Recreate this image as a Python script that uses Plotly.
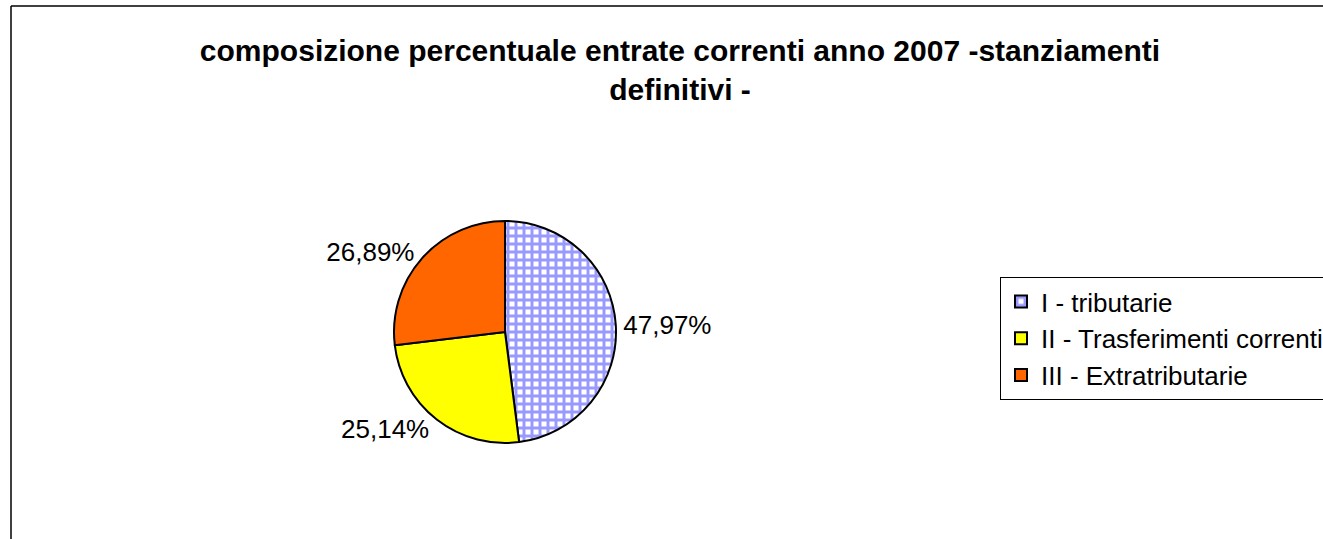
import plotly.graph_objects as go

# quote percentuali entrate correnti 2007
categorie = ["I - tributarie", "II - Trasferimenti correnti", "III - Extratributarie"]
percentuali = [47.97, 25.14, 26.89]
colori = ["#9999FF", "#FFFF00", "#FF6600"]

W, H = 1323, 539
FONT = "Arial, Liberation Sans, sans-serif"


def px_x(x):
    return x / W


def px_y(y):
    return (H - y) / H


cx, cy, r = 505, 332, 111

fig = go.Figure(go.Pie(
    labels=categorie,
    values=percentuali,
    sort=False,
    direction="clockwise",
    rotation=0,
    texttemplate="%{percent:.2%}",
    textposition="outside",
    textfont=dict(family=FONT, size=26, color="black"),
    marker=dict(
        colors=["white", colori[1], colori[2]],
        line=dict(color="black", width=2),
        pattern=dict(shape=["+", "", ""], fgcolor=colori[0], bgcolor="white",
                     size=8, solidity=0.6, fillmode="replace"),
    ),
    domain=dict(x=[px_x(cx - r), px_x(cx + r)], y=[px_y(cy + r), px_y(cy - r)]),
    showlegend=True,
))

fig.update_layout(
    width=W, height=H,
    separators=",.",
    margin=dict(l=0, r=0, t=0, b=0, autoexpand=False),
    paper_bgcolor="white",
    font=dict(family=FONT, color="black"),
    title=dict(
        text="<b>composizione percentuale entrate correnti anno 2007 -stanziamenti<br>definitivi -</b>",
        x=px_x(680), xanchor="center", y=px_y(61), yanchor="top",
        font=dict(size=30, color="black"),
    ),
    legend=dict(
        x=px_x(1000), xanchor="left", y=px_y(277), yanchor="top",
        bordercolor="black", borderwidth=1, bgcolor="white",
        font=dict(size=26, color="black"),
        traceorder="normal",
    ),
    shapes=[
        dict(type="line", xref="paper", yref="paper",
             x0=px_x(11), x1=1, y0=px_y(6), y1=px_y(6),
             line=dict(color="black", width=1.5)),
        dict(type="line", xref="paper", yref="paper",
             x0=px_x(11), x1=px_x(11), y0=0, y1=px_y(6),
             line=dict(color="black", width=1.5)),
    ],
)

fig.write_html("out.html", config={"displayModeBar": False},
               post_script="document.body.style.margin='0';")
